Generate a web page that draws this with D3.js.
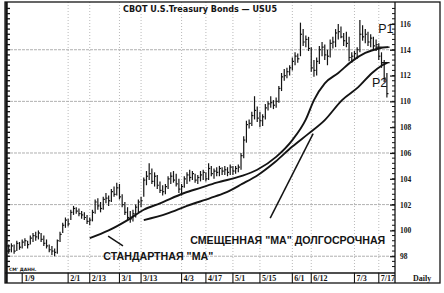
<!DOCTYPE html>
<html>
<head>
<meta charset="utf-8">
<script src="https://cdn.jsdelivr.net/npm/d3@7"></script>
<style>
  body { margin: 0; background: #fff; }
  svg { display: block; }
</style>
</head>
<body>
<div id="chart"></div>
<script>
// daily bars, one value per trading day (index 0 = first bar on the left)
const highs = [
  98.9, 99.0, 98.9, 99.2, 99.1, 99.3, 99.4, 99.2, 99.6, 99.8,
  99.9, 100.0, 99.8, 99.6, 99.3, 98.9, 98.8, 98.6, 99.3, 99.9,
  100.6, 101.0, 100.9, 101.6, 101.9, 101.8, 101.7, 101.5, 101.4, 101.2,
  101.0, 101.6, 102.4, 102.5, 102.2, 102.6, 102.9, 102.7, 103.2, 103.4,
  103.7, 103.6, 102.8, 102.2, 101.8, 101.5, 101.6, 102.0, 102.4, 102.6,
  104.1, 104.6, 105.2, 104.8, 104.5, 104.3, 103.8, 103.5, 103.6, 104.2,
  104.5, 104.6, 104.4, 104.0, 103.6, 104.2, 104.5, 104.7, 104.6, 104.4,
  104.3, 104.6, 104.7, 104.5, 105.2, 105.0, 104.8, 104.9, 105.0, 104.9,
  105.0, 104.9, 105.1, 105.0, 105.0, 105.1, 106.0, 107.3, 108.5, 108.6,
  109.2, 110.4, 109.6, 109.2, 109.0, 109.8, 110.0, 110.4, 110.1, 110.3,
  111.2, 112.2, 112.5, 112.6, 112.8, 113.4, 113.8, 113.7, 116.1, 115.6,
  115.1, 115.0, 114.2, 113.2, 113.4, 114.3, 114.6, 114.4, 114.0, 114.8,
  115.0, 115.6, 116.0, 115.8, 115.3, 115.4, 115.0, 113.8, 113.9, 114.2,
  116.3, 115.9, 115.6, 115.4, 115.2, 115.0, 114.8, 114.5, 113.8, 113.2, 112.2
];
const lows = [
  98.2, 98.3, 98.2, 98.4, 98.5, 98.6, 98.8, 98.6, 98.9, 99.1,
  99.2, 99.3, 99.1, 98.8, 98.6, 98.3, 98.1, 98.0, 98.2, 99.1,
  99.8, 100.2, 100.3, 100.8, 101.2, 101.3, 101.1, 100.9, 100.8, 100.5,
  100.4, 100.7, 101.3, 101.6, 101.4, 101.6, 102.1, 101.9, 102.2, 102.6,
  102.7, 102.4, 101.8, 101.2, 100.8, 100.6, 100.7, 101.0, 101.4, 101.8,
  102.6, 103.5, 103.9, 103.6, 103.4, 103.2, 102.9, 102.7, 102.8, 103.2,
  103.6, 103.7, 103.4, 102.9, 102.7, 103.3, 103.6, 103.8, 103.9, 103.7,
  103.6, 103.8, 103.9, 103.8, 103.9, 104.2, 104.0, 104.2, 104.2, 104.3,
  104.3, 104.2, 104.3, 104.3, 104.4, 104.5, 104.7, 105.6, 106.8, 107.9,
  108.1, 108.6, 108.4, 108.0, 108.1, 108.6, 109.3, 109.5, 109.4, 109.5,
  109.9, 110.8, 111.6, 111.8, 112.0, 112.4, 112.8, 113.0, 113.5, 114.3,
  114.2, 113.9, 112.3, 111.9, 112.0, 112.9, 113.5, 113.2, 112.8, 113.4,
  114.1, 114.2, 114.8, 114.9, 114.3, 114.2, 113.1, 113.0, 113.2, 113.3,
  113.8, 114.7, 114.5, 114.3, 114.2, 114.0, 113.9, 113.2, 112.6, 111.5, 110.3
];
const closes = [
  98.5, 98.8, 98.4, 99.0, 98.7, 99.1, 99.2, 98.9, 99.4, 99.6,
  99.5, 99.8, 99.3, 99.0, 98.8, 98.5, 98.4, 98.3, 99.2, 99.7,
  100.4, 100.8, 100.5, 101.4, 101.7, 101.5, 101.3, 101.2, 101.0, 100.7,
  100.8, 101.4, 102.2, 101.9, 101.7, 102.4, 102.5, 102.3, 103.0, 102.8,
  103.3, 102.6, 102.0, 101.4, 101.0, 100.9, 101.3, 101.8, 102.2, 102.3,
  103.9, 104.2, 104.4, 103.8, 104.2, 103.5, 103.1, 103.0, 103.4, 104.0,
  104.2, 103.9, 103.6, 103.2, 103.4, 104.0, 104.3, 104.1, 104.4, 103.9,
  104.1, 104.3, 104.5, 104.0, 104.8, 104.4, 104.6, 104.5, 104.8, 104.6,
  104.7, 104.5, 104.9, 104.6, 104.8, 104.9, 105.8, 107.0, 108.2, 108.3,
  108.9, 109.3, 108.7, 108.5, 108.8, 109.5, 109.8, 109.9, 109.7, 110.0,
  111.0, 111.9, 112.0, 112.3, 112.6, 113.1, 113.5, 113.3, 115.2, 114.6,
  114.8, 114.1, 112.6, 112.4, 113.1, 114.0, 114.2, 113.6, 113.5, 114.5,
  114.6, 115.3, 115.4, 115.0, 114.7, 114.5, 113.4, 113.5, 113.7, 114.0,
  115.2, 115.0, 115.2, 114.6, 114.9, 114.3, 114.4, 113.5, 113.0, 111.8, 110.6
];

// moving averages, read at sample days
const standardDays = [30, 37, 44, 50, 56, 65, 71, 77, 86, 92, 99, 105, 110, 113, 117, 122, 127, 132, 137, 140.5];
const standardMA = [99.4, 100.0, 100.8, 101.6, 102.1, 102.9, 103.3, 103.7, 104.2, 104.7, 105.7, 107.0, 108.6, 110.1, 111.4, 112.2, 113.1, 113.75, 114.1, 114.2];
const shiftedDays = [50, 58.6, 66, 74.6, 80, 86.4, 92.3, 98.6, 105, 111, 117, 123.4, 129.4, 134.5, 138.3, 140.2];
const shiftedMA = [100.8, 101.3, 101.9, 102.5, 102.9, 103.6, 104.3, 105.3, 106.5, 107.5, 108.55, 110.1, 111.1, 112.2, 112.8, 113.0];

// axes
const dateTicks = [5, 22, 30, 41, 49, 64, 73, 83, 93, 105, 112, 128, 137];
const dateLabels = ["1/9", "2/1", "2/13", "3/1", "3/13", "4/3", "4/17", "5/1", "5/15", "6/1", "6/12", "7/3", "7/17"];
const priceLabels = [116, 114, 112, 110, 108, 106, 104, 102, 100, 98];
const gridPrices = [114, 110, 106, 102, 98];

const width = 444;
const height = 293;
const ink = "#141414";

const x = d3.scaleLinear().domain([-1, 143]).range([6, 395]);
const y = d3.scaleLinear().domain([96.7, 117.7]).range([273, 2]);

const svg = d3.select("#chart")
  .append("svg")
  .attr("width", width)
  .attr("height", height);

svg.append("rect").attr("width", width).attr("height", height).attr("fill", "#fff");

// grid
svg.append("g")
  .selectAll("line")
  .data(gridPrices)
  .join("line")
  .attr("x1", x.range()[0]).attr("x2", x.range()[1])
  .attr("y1", (d) => y(d)).attr("y2", (d) => y(d))
  .attr("stroke", "#9c9c9c")
  .attr("stroke-width", 0.8)
  .attr("stroke-dasharray", "3,1");

svg.append("g")
  .selectAll("line")
  .data(dateTicks.slice(1))
  .join("line")
  .attr("x1", (d) => x(d)).attr("x2", (d) => x(d))
  .attr("y1", y.range()[1]).attr("y2", y.range()[0])
  .attr("stroke", "#a8a8a8")
  .attr("stroke-width", 0.8)
  .attr("stroke-dasharray", "1,2");

// outer frame
svg.append("rect")
  .attr("x", 5).attr("y", 2)
  .attr("width", 435).attr("height", 281)
  .attr("fill", "none")
  .attr("stroke", ink)
  .attr("stroke-width", 1.3);

// left axis: heavy line with minor ticks
const minorTicks = d3.range(97.2, 117.6, 0.4);
svg.append("line")
  .attr("x1", 6.5).attr("x2", 6.5)
  .attr("y1", 2).attr("y2", 283)
  .attr("stroke", ink).attr("stroke-width", 2.5);
svg.append("g")
  .selectAll("line")
  .data(minorTicks)
  .join("line")
  .attr("x1", 6).attr("x2", 10)
  .attr("y1", (d) => y(d)).attr("y2", (d) => y(d))
  .attr("stroke", ink).attr("stroke-width", 1.3);

// right axis
svg.append("line")
  .attr("x1", x.range()[1]).attr("x2", x.range()[1])
  .attr("y1", 2).attr("y2", 283)
  .attr("stroke", ink).attr("stroke-width", 1.3);
svg.append("g")
  .selectAll("line")
  .data(minorTicks)
  .join("line")
  .attr("x1", x.range()[1] - 3).attr("x2", x.range()[1])
  .attr("y1", (d) => y(d)).attr("y2", (d) => y(d))
  .attr("stroke", ink).attr("stroke-width", 1);

const rightAxis = svg.append("g")
  .attr("transform", `translate(${x.range()[1]},0)`)
  .call(d3.axisRight(y).tickValues(priceLabels).tickFormat(d3.format("d")).tickSize(-5).tickPadding(5));
rightAxis.select(".domain").remove();
rightAxis.selectAll("line").attr("stroke", ink).attr("stroke-width", 1.2);
rightAxis.selectAll("text")
  .attr("fill", ink)
  .attr("font-family", "Liberation Serif, serif")
  .attr("font-weight", "bold")
  .attr("font-size", 7.5);

// bottom date band
const bandTop = y.range()[0];
svg.append("line")
  .attr("x1", 5).attr("x2", x.range()[1])
  .attr("y1", bandTop).attr("y2", bandTop)
  .attr("stroke", ink).attr("stroke-width", 1.3);

const band = svg.append("g");
band.selectAll("line")
  .data(dateTicks)
  .join("line")
  .attr("x1", (d) => x(d)).attr("x2", (d) => x(d))
  .attr("y1", bandTop).attr("y2", 283)
  .attr("stroke", ink).attr("stroke-width", 1.1);
band.selectAll("text")
  .data(dateTicks)
  .join("text")
  .attr("x", (d) => x(d) + 2)
  .attr("y", 281)
  .attr("fill", ink)
  .attr("font-family", "Liberation Serif, serif")
  .attr("font-weight", "bold")
  .attr("font-size", 8)
  .text((d, i) => dateLabels[i]);

svg.append("text")
  .attr("x", 413).attr("y", 281)
  .attr("fill", ink)
  .attr("font-family", "Liberation Serif, serif")
  .attr("font-weight", "bold")
  .attr("font-size", 8)
  .text("Daily");

svg.append("text")
  .attr("x", 9).attr("y", 271)
  .attr("fill", ink)
  .attr("font-family", "DejaVu Sans, sans-serif")
  .attr("font-weight", "bold")
  .attr("font-size", 4.5)
  .text("СМ' ДАНН.");

// title
svg.append("text")
  .attr("x", 123).attr("y", 12)
  .attr("fill", ink)
  .attr("font-family", "DejaVu Sans, sans-serif")
  .attr("font-weight", "bold")
  .attr("font-size", 8)
  .attr("textLength", 154)
  .attr("lengthAdjust", "spacingAndGlyphs")
  .text("CBOT U.S.Treasury Bonds — USU5");

// price bars
const bars = svg.append("g")
  .attr("stroke", ink)
  .attr("stroke-width", 1.2);
bars.selectAll("line.hl")
  .data(highs)
  .join("line")
  .attr("class", "hl")
  .attr("x1", (d, i) => x(i)).attr("x2", (d, i) => x(i))
  .attr("y1", (d) => y(d)).attr("y2", (d, i) => y(lows[i]));
bars.selectAll("line.cl")
  .data(closes)
  .join("line")
  .attr("class", "cl")
  .attr("x1", (d, i) => x(i)).attr("x2", (d, i) => x(i) + 1.6)
  .attr("y1", (d) => y(d)).attr("y2", (d) => y(d));

// moving averages
const maLine = d3.line()
  .x((d) => x(d[0]))
  .y((d) => y(d[1]))
  .curve(d3.curveMonotoneX);

svg.append("path")
  .datum(standardDays.map((d, i) => [d, standardMA[i]]))
  .attr("d", maLine)
  .attr("fill", "none")
  .attr("stroke", ink)
  .attr("stroke-width", 1.9);

svg.append("path")
  .datum(shiftedDays.map((d, i) => [d, shiftedMA[i]]))
  .attr("d", maLine)
  .attr("fill", "none")
  .attr("stroke", ink)
  .attr("stroke-width", 1.9);

// P1 / P2 end markers
const markers = [
  {label: "P1", from: 136, to: 141, value: standardMA[standardMA.length - 1], tx: 136.8, ty: 115.3},
  {label: "P2", from: 138, to: 141, value: shiftedMA[shiftedMA.length - 1], tx: 134.5, ty: 111.1},
];
markers.forEach((m) => {
  svg.append("line")
    .attr("x1", x(m.from)).attr("x2", x(m.to))
    .attr("y1", y(m.value)).attr("y2", y(m.value))
    .attr("stroke", ink).attr("stroke-width", 1.3);
  svg.append("text")
    .attr("x", x(m.tx)).attr("y", y(m.ty))
    .attr("fill", ink)
    .attr("font-family", "Liberation Sans, Arial, sans-serif")
    .attr("font-size", 12.5)
    .text(m.label);
});

// annotation pointers (day index, price)
const pointers = [
  [[36.8, 99.55], [42.3, 98.8]],
  [[96.8, 100.95], [112.7, 107.5]],
];
svg.append("g")
  .selectAll("path")
  .data(pointers)
  .join("path")
  .attr("d", d3.line().x((d) => x(d[0])).y((d) => y(d[1])))
  .attr("fill", "none")
  .attr("stroke", ink)
  .attr("stroke-width", 1.5);

const notes = [
  {text: "СТАНДАРТНАЯ \"МА\"", day: 35, price: 97.71, len: 110},
  {text: "СМЕЩЕННАЯ \"МА\" ДОЛГОСРОЧНАЯ", day: 67.2, price: 98.95, len: 195},
];
svg.append("g")
  .selectAll("text")
  .data(notes)
  .join("text")
  .attr("x", (d) => x(d.day))
  .attr("y", (d) => y(d.price))
  .attr("fill", ink)
  .attr("font-family", "Liberation Sans, Arial, sans-serif")
  .attr("font-weight", "bold")
  .attr("font-size", 11)
  .attr("textLength", (d) => d.len)
  .attr("lengthAdjust", "spacingAndGlyphs")
  .text((d) => d.text);
</script>
</body>
</html>
